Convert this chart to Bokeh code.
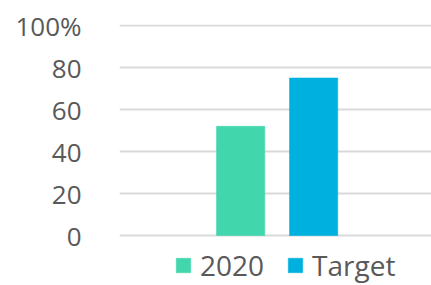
from bokeh.plotting import figure
from bokeh.models import Range1d, Legend, LegendItem, FixedTicker
from bokeh.embed import file_html
from bokeh.resources import INLINE

categories = ["2020", "Target"]
values = [52, 75]
colors = ["#41d6ab", "#00b0de"]
y_ticks = [0, 20, 40, 60, 80, 100]
y_tick_labels = ["0", "20", "40", "60", "80", "100%"]

FONT = "Open Sans"
TEXT_COLOR = "#595959"

# frame extends to the bottom of the canvas so the legend can sit inside it
p = figure(frame_width=312, frame_height=261, output_backend="svg",
           toolbar_location=None, x_axis_location=None,
           x_range=Range1d(-1.66, 2.615), y_range=Range1d(-23.79, 100.5),
           min_border_left=119, min_border_right=0, min_border_top=24,
           min_border_bottom=0)

p.outline_line_color = None
p.background_fill_color = "white"
p.border_fill_color = "white"

items = []
for i, (cat, val, col) in enumerate(zip(categories, values, colors)):
    r = p.vbar(x=[i], top=[val], bottom=0, width=0.66, fill_color=col,
               line_color=col, line_alpha=0.6, line_width=1)
    items.append(LegendItem(label=cat, renderers=[r]))

p.xgrid.visible = False
p.ygrid.ticker = FixedTicker(ticks=y_ticks)
p.ygrid.grid_line_color = "#d9d9d9"
p.ygrid.grid_line_width = 2

ax = p.yaxis[0]
ax.ticker = FixedTicker(ticks=y_ticks)
ax.major_label_overrides = {t: l for t, l in zip(y_ticks, y_tick_labels)}
ax.axis_line_color = None
ax.major_tick_line_color = None
ax.minor_tick_line_color = None
ax.major_label_text_font = FONT
ax.major_label_text_font_size = "26px"
ax.major_label_text_color = TEXT_COLOR
ax.major_label_standoff = 32

legend = Legend(items=items, orientation="horizontal", location=(55, 1),
                border_line_alpha=0, background_fill_alpha=0,
                label_text_font=FONT, label_text_font_size="28px",
                label_text_color=TEXT_COLOR, glyph_width=18, glyph_height=18,
                label_standoff=8, spacing=22, padding=0, margin=0)
p.add_layout(legend, "center")

open("out.html", "w").write(file_html(p, INLINE))
